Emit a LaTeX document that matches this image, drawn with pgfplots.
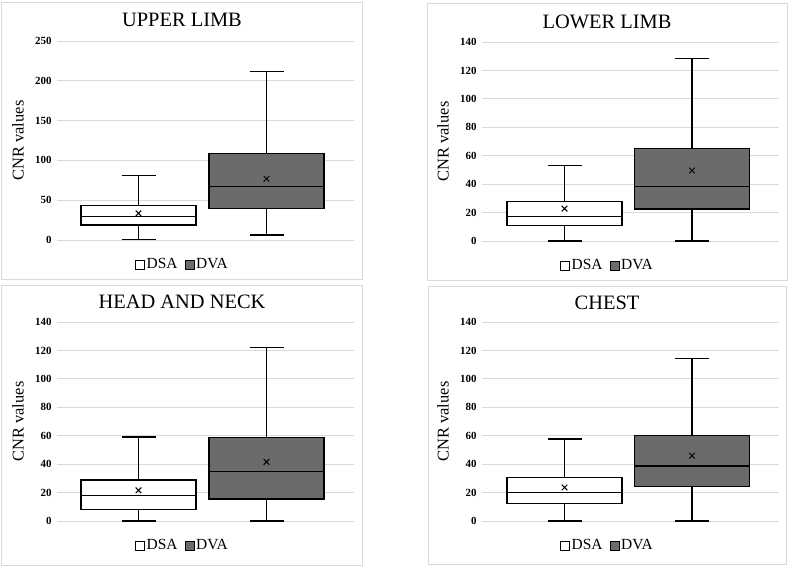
\documentclass[border=0pt]{standalone}
\usepackage{fontspec}
\setmainfont{Liberation Serif}
\usepackage{pgfplots}
\pgfplotsset{compat=1.18}
\usepgfplotslibrary{statistics}

\definecolor{gridgray}{HTML}{D9D9D9}
\definecolor{boxgray}{HTML}{6B6B6B}

\pgfplotsset{
  cnr/.style={
    scale only axis, width=297bp, height=199bp,
    xmin=0, xmax=297, ymin=0,
    xtick=\empty,
    ymajorgrids, grid style={draw=gridgray, line width=0.9pt},
    axis line style={draw=none},
    major tick length=0pt,
    /pgf/number format/assume math mode=true,
    yticklabel style={font=\fontsize{11}{13}\selectfont\bfseries, xshift=-2bp},
    ylabel={CNR values},
    every axis y label/.style={at={(rel axis cs:0,0.5)}, rotate=90, anchor=center,
      yshift=39bp, font=\fontsize{16.5}{18}\selectfont},
    boxplot/draw direction=y,
    clip=false,
    legend style={at={(0.422,-0.123)}, anchor=center, draw=none, fill=none,
      font=\fontsize{15.5}{17}\selectfont, legend columns=-1,
      /tikz/every even column/.append style={column sep=5bp}},
    legend image code/.code={\draw[#1] (0bp,-4.5bp) rectangle (9bp,4.5bp);},
  },
  bx/.style={draw=black, line width=1.3pt, forget plot},
  meanmark/.style={only marks, mark=x, mark size=4bp, black, line width=1pt, forget plot},
}

% one box: position, low whisker, Q1, median, Q3, high whisker, fill
\newcommand\cbox[7]{%
  \addplot[bx, fill=#7, boxplot prepared={draw position=#1, box extend=115,
    whisker extend=34, lower whisker=#2, lower quartile=#3, median=#4,
    upper quartile=#5, upper whisker=#6}] coordinates {};}

\newcommand\legendDV{%
  \addlegendimage{draw=black, line width=0.7pt, fill=white}
  \addlegendentry{DSA}
  \addlegendimage{draw=black, line width=0.7pt, fill=boxgray}
  \addlegendentry{DVA}}

\begin{document}
\begin{tikzpicture}
\useasboundingbox (0bp,0bp) rectangle (790bp,-566bp);
\fill[white] (0bp,0bp) rectangle (790bp,-566bp);

% panel frames
\draw[gridgray, line width=0.9pt] (1.5bp,-2bp) rectangle (362bp,-279.5bp);
\draw[gridgray, line width=0.9pt] (427bp,-3bp) rectangle (787bp,-280bp);
\draw[gridgray, line width=0.9pt] (1.5bp,-285bp) rectangle (362bp,-565bp);
\draw[gridgray, line width=0.9pt] (428bp,-286bp) rectangle (786bp,-564bp);

% titles
\node[font=\fontsize{20.5}{22}\selectfont] at (182bp,-20bp) {UPPER LIMB};
\node[font=\fontsize{20.5}{22}\selectfont] at (607bp,-22bp) {LOWER LIMB};
\node[font=\fontsize{20.5}{22}\selectfont] at (182bp,-302bp) {HEAD AND NECK};
\node[font=\fontsize{20.5}{22}\selectfont] at (607bp,-303bp) {CHEST};

% UPPER LIMB
\begin{axis}[cnr, at={(57bp,-240bp)}, anchor=south west, ymax=250, ytick={0,50,...,250}]
\cbox{81.5}{1}{18.8}{29.7}{43.5}{80.7}{white}
\cbox{209.5}{6.3}{39.3}{66.9}{108.3}{212}{boxgray}
\addplot[meanmark] coordinates {(81.5,33.4) (209.5,76.9)};
\legendDV
\end{axis}

% LOWER LIMB
\begin{axis}[cnr, at={(482bp,-241bp)}, anchor=south west, ymax=140, ytick={0,20,...,140}]
\cbox{82.5}{0}{10.8}{17.4}{28}{52.9}{white}
\cbox{210}{0}{22.6}{38.3}{65.3}{128.3}{boxgray}
\addplot[meanmark] coordinates {(82.5,22.8) (210,49.6)};
\legendDV
\end{axis}

% HEAD AND NECK
\begin{axis}[cnr, at={(57bp,-521bp)}, anchor=south west, ymax=140, ytick={0,20,...,140}]
\cbox{81.5}{0}{8}{17.9}{28.9}{59.2}{white}
\cbox{209.5}{0}{15.5}{34.8}{58.7}{122.2}{boxgray}
\addplot[meanmark] coordinates {(81.5,21.6) (209.5,41.6)};
\legendDV
\end{axis}

% CHEST
\begin{axis}[cnr, at={(482bp,-521bp)}, anchor=south west, ymax=140, ytick={0,20,...,140}]
\cbox{82.5}{0}{12.5}{20.1}{30.7}{57.7}{white}
\cbox{210}{0}{24.1}{38.8}{60.1}{114.2}{boxgray}
\addplot[meanmark] coordinates {(82.5,23.6) (210,45.9)};
\legendDV
\end{axis}
\end{tikzpicture}
\end{document}
